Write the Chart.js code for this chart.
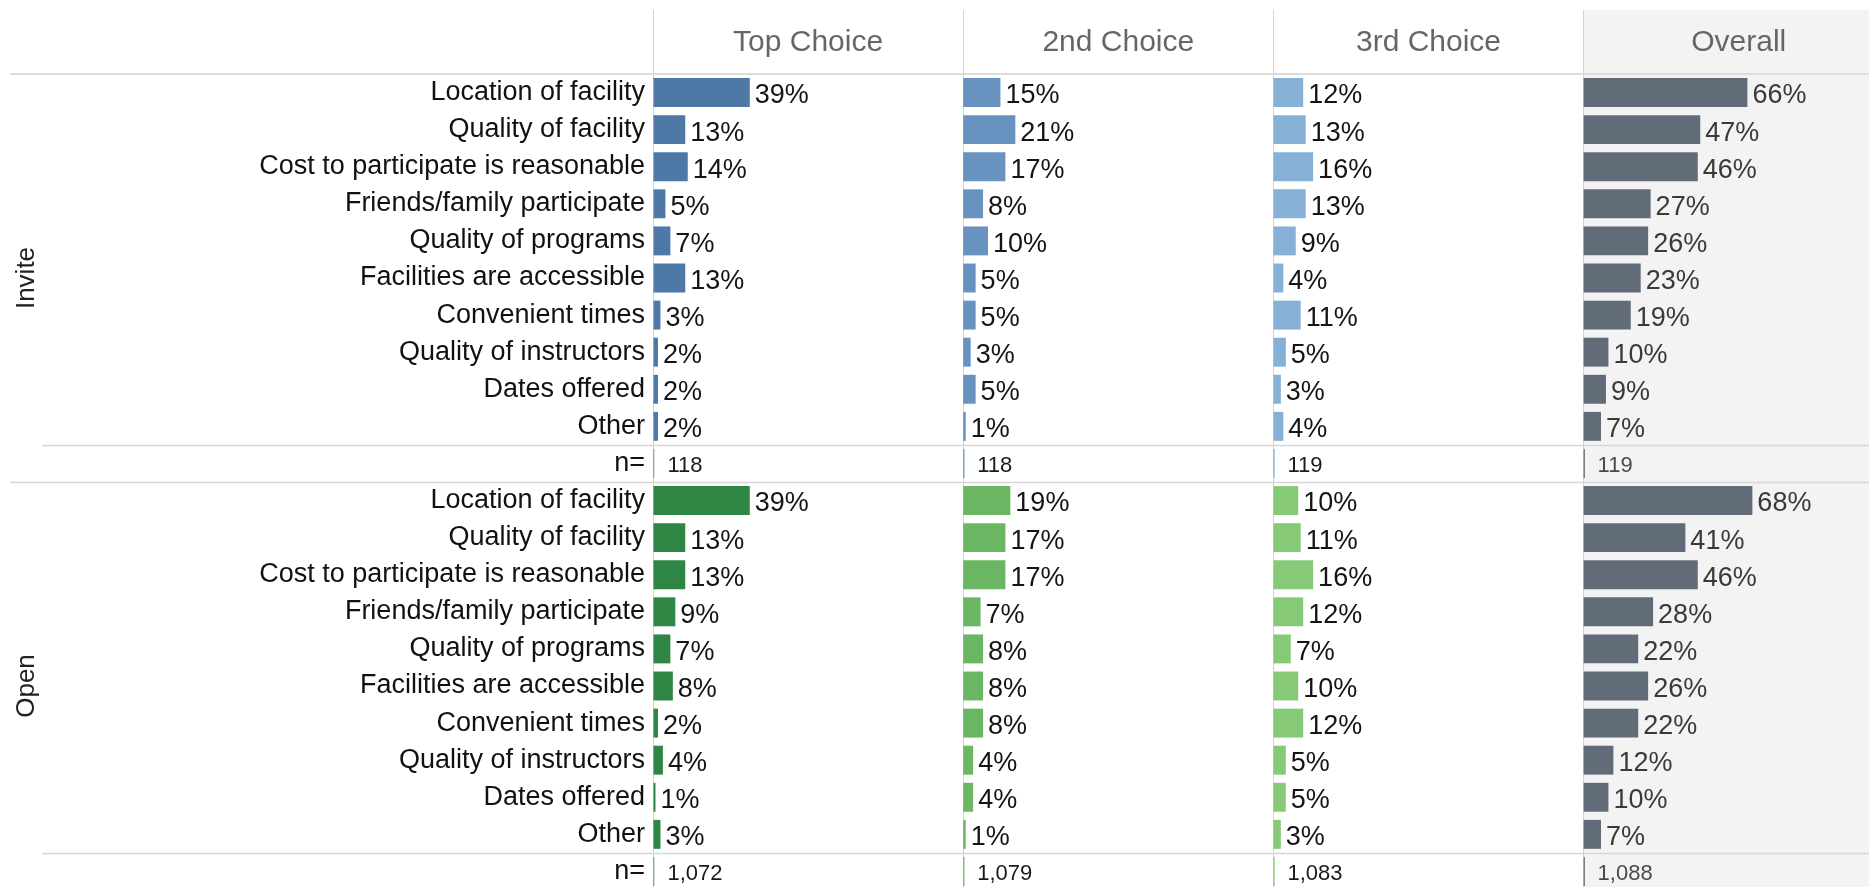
<!DOCTYPE html>
<html>
<head>
<meta charset="utf-8">
<title>Reasons for choosing a facility</title>
<script src="https://cdn.jsdelivr.net/npm/chart.js@4.4.1/dist/chart.umd.min.js"></script>
<style>
  html, body { margin: 0; padding: 0; background: #fff; overflow: hidden; }
  #wrap { width: 1869px; height: 887px; overflow: hidden; }
  canvas { display: block; }
</style>
</head>
<body>
<div id="wrap"><canvas id="reasons" width="1869" height="890"></canvas></div>
<script>
// columns / groups / row labels
const COLUMNS = ['Top Choice', '2nd Choice', '3rd Choice', 'Overall'];
const GROUPS = ['Invite', 'Open'];
const ITEMS = [
    'Location of facility',
    'Quality of facility',
    'Cost to participate is reasonable',
    'Friends/family participate',
    'Quality of programs',
    'Facilities are accessible',
    'Convenient times',
    'Quality of instructors',
    'Dates offered',
    'Other'
];

// percentages, one array per column
const inviteTop     = [39, 13, 14, 5, 7, 13, 3, 2, 2, 2];
const inviteSecond  = [15, 21, 17, 8, 10, 5, 5, 3, 5, 1];
const inviteThird   = [12, 13, 16, 13, 9, 4, 11, 5, 3, 4];
const inviteOverall = [66, 47, 46, 27, 26, 23, 19, 10, 9, 7];
const inviteN       = [118, 118, 119, 119];

const openTop     = [39, 13, 13, 9, 7, 8, 2, 4, 1, 3];
const openSecond  = [19, 17, 17, 7, 8, 8, 8, 4, 4, 1];
const openThird   = [10, 11, 16, 12, 7, 10, 12, 5, 5, 3];
const openOverall = [68, 41, 46, 28, 22, 26, 22, 12, 10, 7];
const openN       = [1072, 1079, 1083, 1088];

const SERIES = {
    Invite: [inviteTop, inviteSecond, inviteThird, inviteOverall],
    Open: [openTop, openSecond, openThird, openOverall]
};
const COUNTS = { Invite: inviteN, Open: openN };

const PALETTE = {
    Invite: ['#4e79a7', '#6892c0', '#86b0d6', '#626c78'],
    Open:   ['#2e8544', '#6ab662', '#86ca77', '#626c78']
};

const COL_SPAN = 125;     // % units per column panel
const X_MAX = 490;        // last panel is cut by the page edge
const N_STUB = 0.5;       // the hairline mark shown on the n= rows
const FONT = '"Liberation Sans", Arial, sans-serif';

// flatten into rows: 10 items + n= per group
const rows = [];
GROUPS.forEach(g => {
    ITEMS.forEach((label, i) => rows.push({ group: g, label, idx: i, isN: false }));
    rows.push({ group: g, label: 'n=', isN: true });
});

const colStarts = COLUMNS.map((_, c) => c * COL_SPAN);

const datasets = COLUMNS.map((name, c) => {
    const base = colStarts[c];
    return {
        label: name,
        data: rows.map(r => r.isN ? [base, base + N_STUB] : [base, base + SERIES[r.group][c][r.idx]]),
        texts: rows.map(r => r.isN ? COUNTS[r.group][c].toLocaleString('en-US') : SERIES[r.group][c][r.idx] + '%'),
        backgroundColor: rows.map(r => PALETTE[r.group][c]),
        borderWidth: 0,
        barPercentage: 0.78,
        categoryPercentage: 1,
        grouped: false
    };
});

const tableDecor = {
    id: 'tableDecor',
    beforeDraw(chart) {
        const { ctx, scales: { x } } = chart;
        const left = x.getPixelForValue(colStarts[3]);
        ctx.save();
        ctx.fillStyle = '#f3f3f3';
        ctx.fillRect(left, x.top, chart.width - left, chart.height - x.top);
        ctx.restore();
    },
    afterDatasetsDraw(chart) {
        const { ctx, chartArea, scales: { x, y } } = chart;
        const pitch = y.getPixelForValue(1) - y.getPixelForValue(0);
        const rowTop = i => y.getPixelForValue(i) - pitch / 2;
        ctx.save();

        // horizontal separators
        const hline = (yy, x0, color, w) => {
            ctx.strokeStyle = color;
            ctx.lineWidth = w;
            ctx.beginPath();
            ctx.moveTo(x0, yy);
            ctx.lineTo(chart.width, yy);
            ctx.stroke();
        };
        hline(chartArea.top, 10, '#dcdcdc', 2);
        rows.forEach((r, i) => {
            if (r.isN) hline(Math.round(rowTop(i)) + 0.5, 42, '#d6d6d6', 1.5);
            else if (i > 0 && rows[i - 1].isN) hline(Math.round(rowTop(i)) + 0.5, 10, '#d6d6d6', 1.5);
        });

        // column headers
        ctx.fillStyle = '#666666';
        ctx.font = '30px ' + FONT;
        ctx.textAlign = 'center';
        ctx.textBaseline = 'middle';
        COLUMNS.forEach((name, c) => {
            const cx = x.getPixelForValue(colStarts[c] + COL_SPAN / 2);
            ctx.fillText(name, cx, (x.top + x.bottom) / 2 + 1);
        });

        // group labels, rotated
        ctx.fillStyle = '#222222';
        ctx.font = '26px ' + FONT;
        GROUPS.forEach(g => {
            const first = rows.findIndex(r => r.group === g);
            const last = rows.length - 1 - [...rows].reverse().findIndex(r => r.group === g);
            const cy = (rowTop(first) + rowTop(last) + pitch) / 2;
            ctx.save();
            ctx.translate(27, cy);
            ctx.rotate(-Math.PI / 2);
            ctx.fillText(g, 0, 0);
            ctx.restore();
        });

        // value labels
        ctx.textAlign = 'left';
        chart.data.datasets.forEach((ds, c) => {
            const meta = chart.getDatasetMeta(c);
            meta.data.forEach((bar, i) => {
                const r = rows[i];
                if (r.isN) {
                    ctx.font = '22px ' + FONT;
                    ctx.fillStyle = c === 3 ? '#4a4a4a' : '#1a1a1a';
                    ctx.fillText(ds.texts[i], Math.min(bar.base, bar.x) + 14, bar.y + 2);
                } else {
                    ctx.font = '27px ' + FONT;
                    ctx.fillStyle = c === 3 ? '#3a3a3a' : '#141414';
                    ctx.fillText(ds.texts[i], Math.max(bar.base, bar.x) + 5, bar.y + 3.5);
                }
            });
        });
        ctx.restore();
    }
};

new Chart(document.getElementById('reasons').getContext('2d'), {
    type: 'bar',
    data: { labels: rows.map(r => r.label), datasets },
    options: {
        indexAxis: 'y',
        responsive: false,
        animation: false,
        layout: { padding: { top: 10, left: 0, right: 0, bottom: 0 } },
        plugins: { legend: { display: false }, tooltip: { enabled: false } },
        scales: {
            x: {
                type: 'linear',
                position: 'top',
                min: 0,
                max: X_MAX,
                afterBuildTicks: scale => { scale.ticks = colStarts.map(v => ({ value: v })); },
                ticks: { display: false },
                grid: { color: '#d2d2d2', lineWidth: 1, drawTicks: true, tickLength: 64, tickColor: '#d2d2d2' },
                border: { display: false }
            },
            y: {
                type: 'category',
                position: 'left',
                afterFit: scale => {
                    scale.width = 653;
                    // keep the rows running to the bottom edge
                    scale.paddingTop = 0;
                    scale.paddingBottom = 0;
                },
                ticks: { color: '#111111', font: { size: 27, family: FONT }, padding: 8, autoSkip: false },
                grid: { display: false, drawTicks: false },
                border: { display: false }
            }
        }
    },
    plugins: [tableDecor]
});
</script>
</body>
</html>
